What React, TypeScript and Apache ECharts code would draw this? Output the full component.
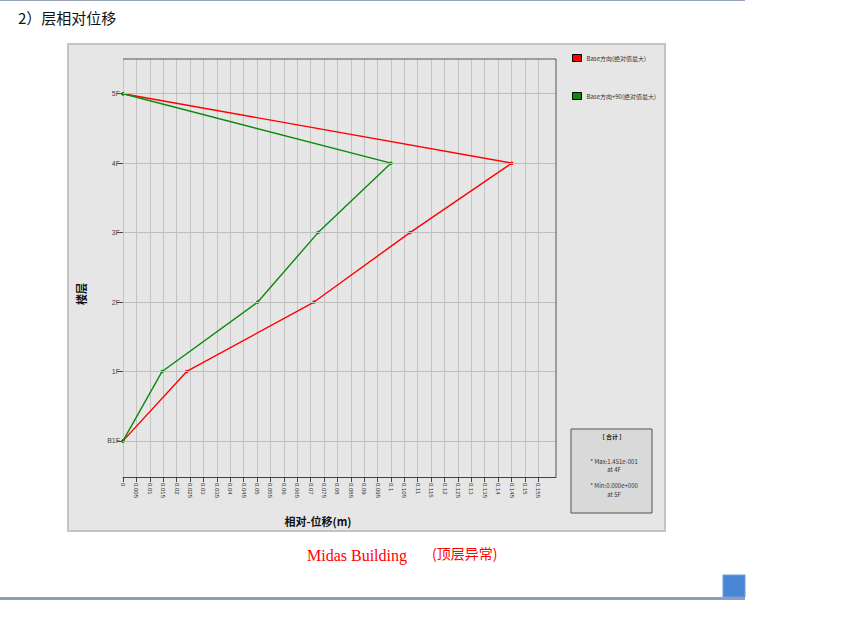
import React, { useEffect, useRef } from "react";
import * as echarts from "echarts";

const floorLabels = ["B1F", "1F", "2F", "3F", "4F", "5F"];
const floorIndex = [0, 1, 2, 3, 4, 5];
const redDrift = [0, 0.0238, 0.0713, 0.1071, 0.1451, 0];
const greenDrift = [0, 0.0146, 0.0503, 0.0728, 0.1, 0];
const xTickLabels = [
  "0", "0.005", "0.01", "0.015", "0.02", "0.025", "0.03", "0.035", "0.04", "0.045",
  "0.05", "0.055", "0.06", "0.065", "0.07", "0.075", "0.08", "0.085", "0.09", "0.095",
  "0.1", "0.105", "0.11", "0.115", "0.12", "0.125", "0.13", "0.135", "0.14", "0.145",
  "0.15", "0.155",
];
const seriesNames = ["Base方向(绝对值最大)", "Base方向+90(绝对值最大)"];
const summaryLines = ["[ 合计 ]", "* Max:1.451e-001", "at 4F", "* Min:0.000e+000", "at 5F"];

export default function App() {
  const ref = useRef<HTMLDivElement>(null);
  useEffect(() => {
    if (!ref.current) return;
    const chart = echarts.init(ref.current, null, { renderer: "svg" });
    const xTicks = xTickLabels.map((s) => parseFloat(s));
    const cjk = '"Noto Sans CJK SC", "DejaVu Sans", sans-serif';
    chart.setOption({
      animation: false,
      backgroundColor: "#ffffff",
      grid: { left: 123, top: 59, width: 433, height: 418, containLabel: false },
      legend: {
        orient: "vertical",
        left: 567,
        top: 49,
        itemGap: 30,
        itemWidth: 9,
        itemHeight: 7,
        icon: "rect",
        itemStyle: { borderColor: "#000", borderWidth: 1 },
        textStyle: { fontSize: 6, color: "#333", fontFamily: cjk },
        data: seriesNames,
      },
      xAxis: {
        type: "value",
        min: 0,
        max: 0.1616,
        interval: 0.005,
        axisLine: { show: true, onZero: false, lineStyle: { color: "#444", width: 1 } },
        axisTick: { show: true, length: 5, lineStyle: { color: "#444" }, customValues: xTicks },
        axisLabel: {
          rotate: -90,
          fontSize: 6,
          color: "#333",
          margin: 6,
          customValues: xTicks,
          formatter: (v: number) => {
            const i = xTicks.findIndex((t) => Math.abs(t - v) < 1e-9);
            return i >= 0 ? xTickLabels[i] : "";
          },
        },
        splitLine: { show: true, lineStyle: { color: "#c4c4c4", width: 1 } },
      },
      yAxis: {
        type: "value",
        min: -0.52,
        max: 5.5,
        axisLine: { show: false },
        axisTick: { show: true, length: 6, lineStyle: { color: "#444" }, customValues: floorIndex },
        axisLabel: {
          fontSize: 7,
          color: "#444",
          margin: 3,
          customValues: floorIndex,
          formatter: (v: number) => floorLabels[Math.round(v)] ?? "",
        },
        splitLine: { show: false },
      },
      series: [
        {
          name: seriesNames[0],
          type: "line",
          data: redDrift.map((x, i) => [x, floorIndex[i]]),
          lineStyle: { color: "#ff0000", width: 1.4 },
          itemStyle: { color: "#ff0000" },
          symbol: "circle",
          symbolSize: 3.5,
          z: 3,
        },
        {
          name: seriesNames[1],
          type: "line",
          data: greenDrift.map((x, i) => [x, floorIndex[i]]),
          lineStyle: { color: "#0a8a0a", width: 1.4 },
          itemStyle: { color: "#0a8a0a" },
          symbol: "circle",
          symbolSize: 3.5,
          z: 4,
        },
        {
          type: "line",
          data: floorIndex.map((f) => [0, f]),
          silent: true,
          symbol: "none",
          lineStyle: { width: 0 },
          markLine: {
            silent: true,
            symbol: "none",
            label: { show: false },
            lineStyle: { color: "#bdbdbd", width: 1, type: "solid" },
            data: floorIndex.map((f) => ({ yAxis: f })),
          },
          z: 1,
        },
      ],
      graphic: [
        { type: "line", shape: { x1: 0, y1: 0.5, x2: 745, y2: 0.5 }, style: { stroke: "#9aa6bc", lineWidth: 1 }, z: -1 },
        {
          type: "text",
          left: 18,
          top: 10,
          style: { text: "2）层相对位移", fontSize: 15, fill: "#111", fontFamily: cjk },
        },
        {
          type: "rect",
          shape: { x: 68, y: 44, width: 597, height: 487 },
          style: { fill: "#e6e6e6", stroke: "#c4c4c4", lineWidth: 2 },
          z: -10,
        },
        {
          type: "polyline",
          shape: { points: [[123, 59], [556, 59], [556, 477]] },
          style: { stroke: "#555", lineWidth: 1, fill: null },
          z: 10,
        },
        {
          type: "text",
          x: 81,
          y: 294,
          rotation: Math.PI / 2,
          style: { text: "楼层", fontSize: 11, fontWeight: "bold", fill: "#111", fontFamily: cjk, align: "center", verticalAlign: "middle" },
        },
        {
          type: "text",
          x: 318,
          y: 521,
          style: { text: "相对-位移(m)", fontSize: 11, fontWeight: "bold", fill: "#111", fontFamily: cjk, align: "center", verticalAlign: "middle" },
        },
        {
          type: "rect",
          shape: { x: 571, y: 429, width: 81, height: 84 },
          style: { fill: "#d9d9d9", stroke: "#555", lineWidth: 1 },
        },
        {
          type: "text",
          x: 612,
          y: 436,
          style: { text: summaryLines[0], fontSize: 6, fontWeight: "bold", fill: "#222", fontFamily: cjk, align: "center", verticalAlign: "middle" },
        },
        {
          type: "text",
          x: 614,
          y: 461,
          style: { text: summaryLines[1], fontSize: 6, fill: "#333", fontFamily: cjk, align: "center", verticalAlign: "middle" },
        },
        {
          type: "text",
          x: 614,
          y: 469,
          style: { text: summaryLines[2], fontSize: 6, fill: "#333", fontFamily: cjk, align: "center", verticalAlign: "middle" },
        },
        {
          type: "text",
          x: 614,
          y: 485,
          style: { text: summaryLines[3], fontSize: 6, fill: "#333", fontFamily: cjk, align: "center", verticalAlign: "middle" },
        },
        {
          type: "text",
          x: 614,
          y: 494,
          style: { text: summaryLines[4], fontSize: 6, fill: "#333", fontFamily: cjk, align: "center", verticalAlign: "middle" },
        },
        {
          type: "text",
          x: 307,
          y: 555,
          style: { text: "Midas Building", fontSize: 16, fill: "#ff0000", fontFamily: '"Liberation Serif", serif', verticalAlign: "middle" },
        },
        {
          type: "text",
          x: 432,
          y: 553,
          style: { text: "(顶层异常)", fontSize: 14, fill: "#ff0000", fontFamily: cjk, verticalAlign: "middle" },
        },
        {
          type: "rect",
          shape: { x: 0, y: 597, width: 745, height: 3 },
          style: { fill: "#8e9dbb" },
        },
        {
          type: "rect",
          shape: { x: 723, y: 575, width: 22, height: 22 },
          style: { fill: "#4a86d4", stroke: "#6f9fe0", lineWidth: 1 },
        },
      ],
    });
    return () => chart.dispose();
  }, []);
  return (
    <div
      ref={ref}
      style={{ position: "fixed", left: 0, top: 0, width: 843, height: 623 }}
    />
  );
}
